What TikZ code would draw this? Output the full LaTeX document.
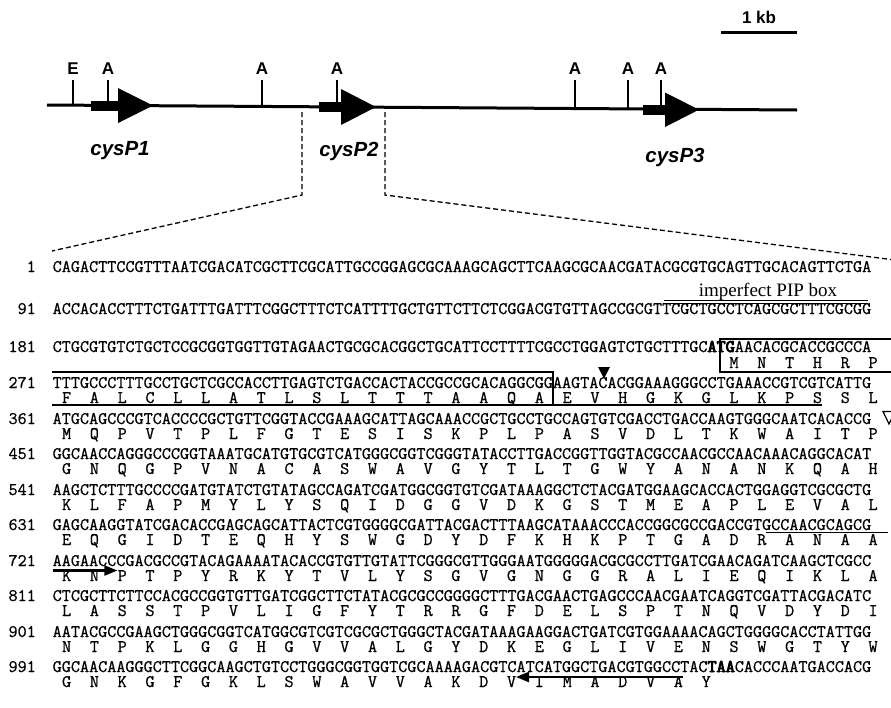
\documentclass[tikz,border=0pt]{standalone}
\usepackage{fontspec}
\setmainfont{Liberation Serif}
\setsansfont{Liberation Sans}
\newfontfamily\seqff[FakeBold=0.7]{Latin Modern Mono}
\newfontfamily\seqbf[FakeBold=5]{Latin Modern Mono}
\usetikzlibrary{arrows.meta}
\newcommand\seqfont{\seqff\fontsize{17.66}{20}\selectfont}
\newcommand\sbf[1]{{\seqbf #1}}
\newcommand\aaline[1]{\foreach \c in {#1}{\makebox[27.81pt]{\c}}}
\begin{document}
\begin{tikzpicture}[x=1pt,y=-1pt,
  seq/.style={anchor=base west, inner sep=0pt, font=\seqfont},
  num/.style={anchor=base east, inner sep=0pt, font=\seqfont},
  site/.style={font=\sffamily\bfseries\fontsize{17}{17}\selectfont, inner sep=0pt},
  gene/.style={font=\sffamily\bfseries\itshape\fontsize{20.5}{20.5}\selectfont, inner sep=0pt},
  pip/.style={font=\rmfamily\fontsize{19}{19}\selectfont, inner sep=0pt},
  chrom/.style={line width=3pt},
  tick/.style={line width=1.5pt},
  zoomline/.style={line width=1.3pt, dash pattern=on 5pt off 3pt},
  boxline/.style={line width=1.6pt},
  primer/.style={line width=2.2pt, -{Triangle[length=13pt,width=10pt]}}
]
\useasboundingbox (0,0) rectangle (891,707);
% ---------- map ----------
\node[font=\sffamily\bfseries\fontsize{17}{17}\selectfont, inner sep=0pt] (kb) at (759,17) {1 kb};
\draw[chrom] (721,32) -- (797,32);
\draw[chrom] (47,105) -- (797,110);
% sites
\draw[tick] (73,80) -- (73,105.2);   \node[site] (sE) at (73,69) {E};
\draw[tick] (108,80) -- (108,102);   \node[site] (sA1) at (108,69) {A};
\draw[tick] (262,80) -- (262,106.4); \node[site] (sA2) at (262,69) {A};
\draw[tick] (337,80) -- (337,103);   \node[site] (sA3) at (337,69) {A};
\draw[tick] (575,80) -- (575,108.5); \node[site] (sA4) at (575,69) {A};
\draw[tick] (628,80) -- (628,108.9); \node[site] (sA5) at (628,69) {A};
\draw[tick] (661,80) -- (661,106);   \node[site] (sA6) at (661,69) {A};
% genes
\fill (91,100.5) rectangle (120,110.5);
\fill (118,88) -- (153,105.5) -- (118,123) -- cycle;
\fill (319,102) rectangle (342,112);
\fill (341,89) -- (376,107) -- (341,125) -- cycle;
\fill (643,104.5) rectangle (666,114.5);
\fill (665,92.5) -- (699,109.7) -- (665,127) -- cycle;
\node[gene] (g1) at (120,151) {cysP1};
\node[gene] (g2) at (349,151) {cysP2};
\node[gene] (g3) at (675,157) {cysP3};
% zoom lines
\draw[zoomline] (302,112) -- (302,195) -- (52,251);
\draw[zoomline] (385,112) -- (385,195) -- (895,260);
% ---------- sequence ----------
\node[num] (n1) at (36,272) {1};
\node[seq] (s1) at (52.5,272) {CAGACTTCCGTTTAATCGACATCGCTTCGCATTGCCGGAGCGCAAAGCAGCTTCAAGCGCAACGATACGCGTGCAGTTGCACAGTTCTGA};
\node[pip] (pipl) at (768,292) {imperfect PIP box};
\draw[line width=1.2pt] (664.3,300.5) -- (868.3,300.5);
\draw[line width=1.2pt] (664.3,303.7) -- (868.3,303.7);
\node[num] (n91) at (36,314) {91};
\node[seq] (s91) at (52.5,314) {ACCACACCTTTCTGATTTGATTTCGGCTTTCTCATTTTGCTGTTCTTCTCGGACGTGTTAGCCGCGTTCGCTGCCTCAGCGCTTTCGCGG};
\node[num] (n181) at (36,352) {181};
\node[seq] (s181) at (52.5,352) {CTGCGTGTCTGCTCCGCGGTGGTTGTAGAACTGCGCACGGCTGCATTCCTTTTCGCCTGGAGTCTGCTTTGC\sbf{ATG}AACACGCACCGCCCA};
\node[seq] (a181) at (719.9,368) {\aaline{M,N,T,H,R,P}};
\draw[boxline] (892,339) -- (719.9,339) -- (719.9,372) -- (892,372);
\draw[boxline] (52,372) -- (553.1,372) -- (553.1,405) -- (52,405);
\draw[line width=1.3pt] (553.1,405) -- (821.9,405);
\fill (598,367) -- (610,367) -- (604,378.5) -- cycle;
\node[num] (n271) at (36,388) {271};
\node[seq] (s271) at (52.5,388) {TTTGCCCTTTGCCTGCTCGCCACCTTGAGTCTGACCACTACCGCCGCACAGGCGGAAGTACACGGAAAGGGCCTGAAACCGTCGTCATTG};
\node[seq] (a271) at (52.5,403) {\aaline{F,A,L,C,L,L,A,T,L,S,L,T,T,T,A,A,Q,A,E,V,H,G,K,G,L,K,P,S,S,L}};
\draw[line width=1.2pt, fill=white] (883,411.5) -- (895,411.5) -- (889,424) -- cycle;
\node[num] (n361) at (36,424) {361};
\node[seq] (s361) at (52.5,424) {ATGCAGCCCGTCACCCCGCTGTTCGGTACCGAAAGCATTAGCAAACCGCTGCCTGCCAGTGTCGACCTGACCAAGTGGGCAATCACACCG};
\node[seq] (a361) at (52.5,439) {\aaline{M,Q,P,V,T,P,L,F,G,T,E,S,I,S,K,P,L,P,A,S,V,D,L,T,K,W,A,I,T,P}};
\node[num] (n451) at (36,459) {451};
\node[seq] (s451) at (52.5,459) {GGCAACCAGGGCCCGGTAAATGCATGTGCGTCATGGGCGGTCGGGTATACCTTGACCGGTTGGTACGCCAACGCCAACAAACAGGCACAT};
\node[seq] (a451) at (52.5,474) {\aaline{G,N,Q,G,P,V,N,A,C,A,S,W,A,V,G,Y,T,L,T,G,W,Y,A,N,A,N,K,Q,A,H}};
\node[num] (n541) at (36,495) {541};
\node[seq] (s541) at (52.5,495) {AAGCTCTTTGCCCCGATGTATCTGTATAGCCAGATCGATGGCGGTGTCGATAAAGGCTCTACGATGGAAGCACCACTGGAGGTCGCGCTG};
\node[seq] (a541) at (52.5,510) {\aaline{K,L,F,A,P,M,Y,L,Y,S,Q,I,D,G,G,V,D,K,G,S,T,M,E,A,P,L,E,V,A,L}};
\node[num] (n631) at (36,530) {631};
\node[seq] (s631) at (52.5,530) {GAGCAAGGTATCGACACCGAGCAGCATTACTCGTGGGGCGATTACGACTTTAAGCATAAACCCACCGGCGCCGACCGTGCCAACGCAGCG};
\draw[line width=1.5pt] (766.3,532.5) -- (888,532.5);
\node[seq] (a631) at (52.5,545) {\aaline{E,Q,G,I,D,T,E,Q,H,Y,S,W,G,D,Y,D,F,K,H,K,P,T,G,A,D,R,A,N,A,A}};
\node[num] (n721) at (36,566) {721};
\node[seq] (s721) at (52.5,566) {AAGAACCCGACGCCGTACAGAAAATACACCGTGTTGTATTCGGGCGTTGGGAATGGGGGACGCGCCTTGATCGAACAGATCAAGCTCGCC};
\draw[primer] (52.5,570.5) -- (117.4,570.5);
\node[seq] (a721) at (52.5,581) {\aaline{K,N,P,T,P,Y,R,K,Y,T,V,L,Y,S,G,V,G,N,G,G,R,A,L,I,E,Q,I,K,L,A}};
\node[num] (n811) at (36,601) {811};
\node[seq] (s811) at (52.5,601) {CTCGCTTCTTCCACGCCGGTGTTGATCGGCTTCTATACGCGCCGGGGCTTTGACGAACTGAGCCCAACGAATCAGGTCGATTACGACATC};
\node[seq] (a811) at (52.5,616) {\aaline{L,A,S,S,T,P,V,L,I,G,F,Y,T,R,R,G,F,D,E,L,S,P,T,N,Q,V,D,Y,D,I}};
\node[num] (n901) at (36,637) {901};
\node[seq] (s901) at (52.5,637) {AATACGCCGAAGCTGGGCGGTCATGGCGTCGTCGCGCTGGGCTACGATAAAGAAGGACTGATCGTGGAAAACAGCTGGGGCACCTATTGG};
\node[seq] (a901) at (52.5,652) {\aaline{N,T,P,K,L,G,G,H,G,V,V,A,L,G,Y,D,K,E,G,L,I,V,E,N,S,W,G,T,Y,W}};
\node[num] (n991) at (36,672) {991};
\node[seq] (s991) at (52.5,672) {GGCAACAAGGGCTTCGGCAAGCTGTCCTGGGCGGTGGTCGCAAAAGACGTCATCATGGCTGACGTGGCCTAC\sbf{TAA}CACCCAATGACCACG};
\draw[primer] (682.9,677) -- (516,677);
\node[seq] (a991) at (52.5,687) {\aaline{G,N,K,G,F,G,K,L,S,W,A,V,V,A,K,D,V,I,M,A,D,V,A,Y}};
\end{tikzpicture}
\end{document}
